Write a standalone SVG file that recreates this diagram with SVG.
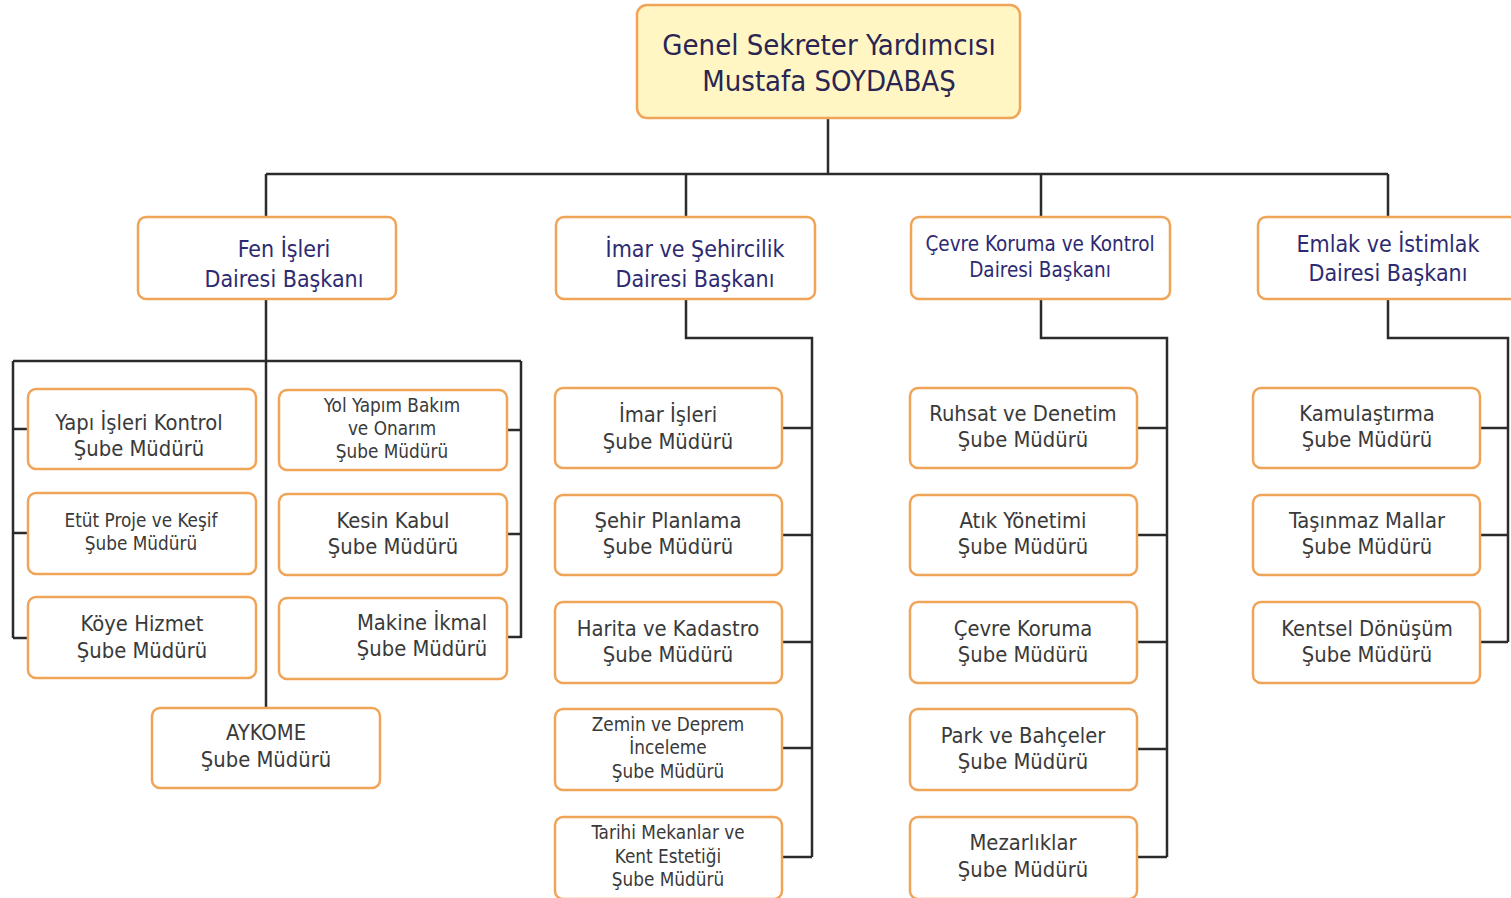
<svg xmlns="http://www.w3.org/2000/svg" width="1511" height="898" viewBox="0 0 1511 898">
<style>
.box{fill:#ffffff;stroke:#f0a457;stroke-width:2.5}
.top{fill:#fff6c4;stroke:#f0a457;stroke-width:2.5}
.ln{fill:none;stroke:#2b2b2b;stroke-width:2.5}
text{font-family:"DejaVu Sans Condensed","DejaVu Sans",sans-serif;font-stretch:condensed;text-anchor:middle}
.t0{font-size:29px;fill:#2a2552}
.t1{font-size:23px;fill:#2e2a72}
.t1s{font-size:20.5px;fill:#2e2a72}
.t2{font-size:21.8px;fill:#3a3a3a}
.t3{font-size:18.8px;fill:#3a3a3a}
</style>
<rect width="1511" height="898" fill="#ffffff"/>
<g id="connectors">
<path class="ln" d="M828,118V174M266,174H1388M266,174V217M686,174V217M1041,174V217M1388,174V217"/>
<path class="ln" d="M266,299V708M13,361H521M13,361V638M521,361V638M13,429H28M13,533H28M13,638H28M507,430H521M507,534H521M507,637H521"/>
<path class="ln" d="M686,299V338H812V857M782,428H812M782,535H812M782,642H812M782,748H812M782,857H812"/>
<path class="ln" d="M1041,299V338H1167V857M1137,428H1167M1137,535H1167M1137,642H1167M1137,749H1167M1137,857H1167"/>
<path class="ln" d="M1388,299V338H1508V642M1480,428H1508M1480,535H1508M1480,642H1508"/>
</g>
<g id="genel-sekreter-yardimcisi">
<rect class="top" x="637" y="5" width="383" height="113" rx="10"/>
<text class="t0" x="829" y="55">Genel Sekreter Yardımcısı</text>
<text class="t0" x="829" y="91">Mustafa SOYDABAŞ</text>
</g>
<g id="fen-isleri">
<rect class="box" x="138" y="217" width="258" height="82" rx="8"/>
<text class="t1" x="284" y="257">Fen İşleri</text>
<text class="t1" x="284" y="287">Dairesi Başkanı</text>
</g>
<g id="imar-sehircilik">
<rect class="box" x="556" y="217" width="259" height="82" rx="8"/>
<text class="t1" x="695" y="257">İmar ve Şehircilik</text>
<text class="t1" x="695" y="287">Dairesi Başkanı</text>
</g>
<g id="cevre-koruma-kontrol">
<rect class="box" x="911" y="217" width="259" height="82" rx="8"/>
<text class="t1s" x="1040" y="251">Çevre Koruma ve Kontrol</text>
<text class="t1s" x="1040" y="277">Dairesi Başkanı</text>
</g>
<g id="emlak-istimlak">
<rect class="box" x="1258" y="217" width="262" height="82" rx="8"/>
<text class="t1" x="1388" y="252">Emlak ve İstimlak</text>
<text class="t1" x="1388" y="281">Dairesi Başkanı</text>
</g>
<g id="yapi-isleri-kontrol">
<rect class="box" x="28" y="389" width="228" height="80" rx="8"/>
<text class="t2" x="139" y="430">Yapı İşleri Kontrol</text>
<text class="t2" x="139" y="456">Şube Müdürü</text>
</g>
<g id="yol-yapim">
<rect class="box" x="279" y="390" width="228" height="80" rx="8"/>
<text class="t3" x="392" y="412">Yol Yapım Bakım</text>
<text class="t3" x="392" y="435">ve Onarım</text>
<text class="t3" x="392" y="458">Şube Müdürü</text>
</g>
<g id="etut-proje-kesif">
<rect class="box" x="28" y="493" width="228" height="81" rx="8"/>
<text class="t3" x="141" y="527">Etüt Proje ve Keşif</text>
<text class="t3" x="141" y="550">Şube Müdürü</text>
</g>
<g id="kesin-kabul">
<rect class="box" x="279" y="494" width="228" height="81" rx="8"/>
<text class="t2" x="393" y="528">Kesin Kabul</text>
<text class="t2" x="393" y="554">Şube Müdürü</text>
</g>
<g id="koye-hizmet">
<rect class="box" x="28" y="597" width="228" height="81" rx="8"/>
<text class="t2" x="142" y="631">Köye Hizmet</text>
<text class="t2" x="142" y="658">Şube Müdürü</text>
</g>
<g id="makine-ikmal">
<rect class="box" x="279" y="598" width="228" height="81" rx="8"/>
<text class="t2" x="422" y="630">Makine İkmal</text>
<text class="t2" x="422" y="656">Şube Müdürü</text>
</g>
<g id="aykome">
<rect class="box" x="152" y="708" width="228" height="80" rx="8"/>
<text class="t2" x="266" y="740">AYKOME</text>
<text class="t2" x="266" y="767">Şube Müdürü</text>
</g>
<g id="imar-isleri">
<rect class="box" x="555" y="388" width="227" height="80" rx="8"/>
<text class="t2" x="668" y="422">İmar İşleri</text>
<text class="t2" x="668" y="449">Şube Müdürü</text>
</g>
<g id="sehir-planlama">
<rect class="box" x="555" y="495" width="227" height="80" rx="8"/>
<text class="t2" x="668" y="528">Şehir Planlama</text>
<text class="t2" x="668" y="554">Şube Müdürü</text>
</g>
<g id="harita-kadastro">
<rect class="box" x="555" y="602" width="227" height="81" rx="8"/>
<text class="t2" x="668" y="636">Harita ve Kadastro</text>
<text class="t2" x="668" y="662">Şube Müdürü</text>
</g>
<g id="zemin-deprem">
<rect class="box" x="555" y="709" width="227" height="81" rx="8"/>
<text class="t3" x="668" y="731">Zemin ve Deprem</text>
<text class="t3" x="668" y="754">İnceleme</text>
<text class="t3" x="668" y="778">Şube Müdürü</text>
</g>
<g id="tarihi-mekanlar">
<rect class="box" x="555" y="817" width="227" height="82" rx="8"/>
<text class="t3" x="668" y="839">Tarihi Mekanlar ve</text>
<text class="t3" x="668" y="863">Kent Estetiği</text>
<text class="t3" x="668" y="886">Şube Müdürü</text>
</g>
<g id="ruhsat-denetim">
<rect class="box" x="910" y="388" width="227" height="80" rx="8"/>
<text class="t2" x="1023" y="421">Ruhsat ve Denetim</text>
<text class="t2" x="1023" y="447">Şube Müdürü</text>
</g>
<g id="atik-yonetimi">
<rect class="box" x="910" y="495" width="227" height="80" rx="8"/>
<text class="t2" x="1023" y="528">Atık Yönetimi</text>
<text class="t2" x="1023" y="554">Şube Müdürü</text>
</g>
<g id="cevre-koruma">
<rect class="box" x="910" y="602" width="227" height="81" rx="8"/>
<text class="t2" x="1023" y="636">Çevre Koruma</text>
<text class="t2" x="1023" y="662">Şube Müdürü</text>
</g>
<g id="park-bahceler">
<rect class="box" x="910" y="709" width="227" height="81" rx="8"/>
<text class="t2" x="1023" y="743">Park ve Bahçeler</text>
<text class="t2" x="1023" y="769">Şube Müdürü</text>
</g>
<g id="mezarliklar">
<rect class="box" x="910" y="817" width="227" height="82" rx="8"/>
<text class="t2" x="1023" y="850">Mezarlıklar</text>
<text class="t2" x="1023" y="877">Şube Müdürü</text>
</g>
<g id="kamulastirma">
<rect class="box" x="1253" y="388" width="227" height="80" rx="8"/>
<text class="t2" x="1367" y="421">Kamulaştırma</text>
<text class="t2" x="1367" y="447">Şube Müdürü</text>
</g>
<g id="tasinmaz-mallar">
<rect class="box" x="1253" y="495" width="227" height="80" rx="8"/>
<text class="t2" x="1367" y="528">Taşınmaz Mallar</text>
<text class="t2" x="1367" y="554">Şube Müdürü</text>
</g>
<g id="kentsel-donusum">
<rect class="box" x="1253" y="602" width="227" height="81" rx="8"/>
<text class="t2" x="1367" y="636">Kentsel Dönüşüm</text>
<text class="t2" x="1367" y="662">Şube Müdürü</text>
</g>
</svg>
